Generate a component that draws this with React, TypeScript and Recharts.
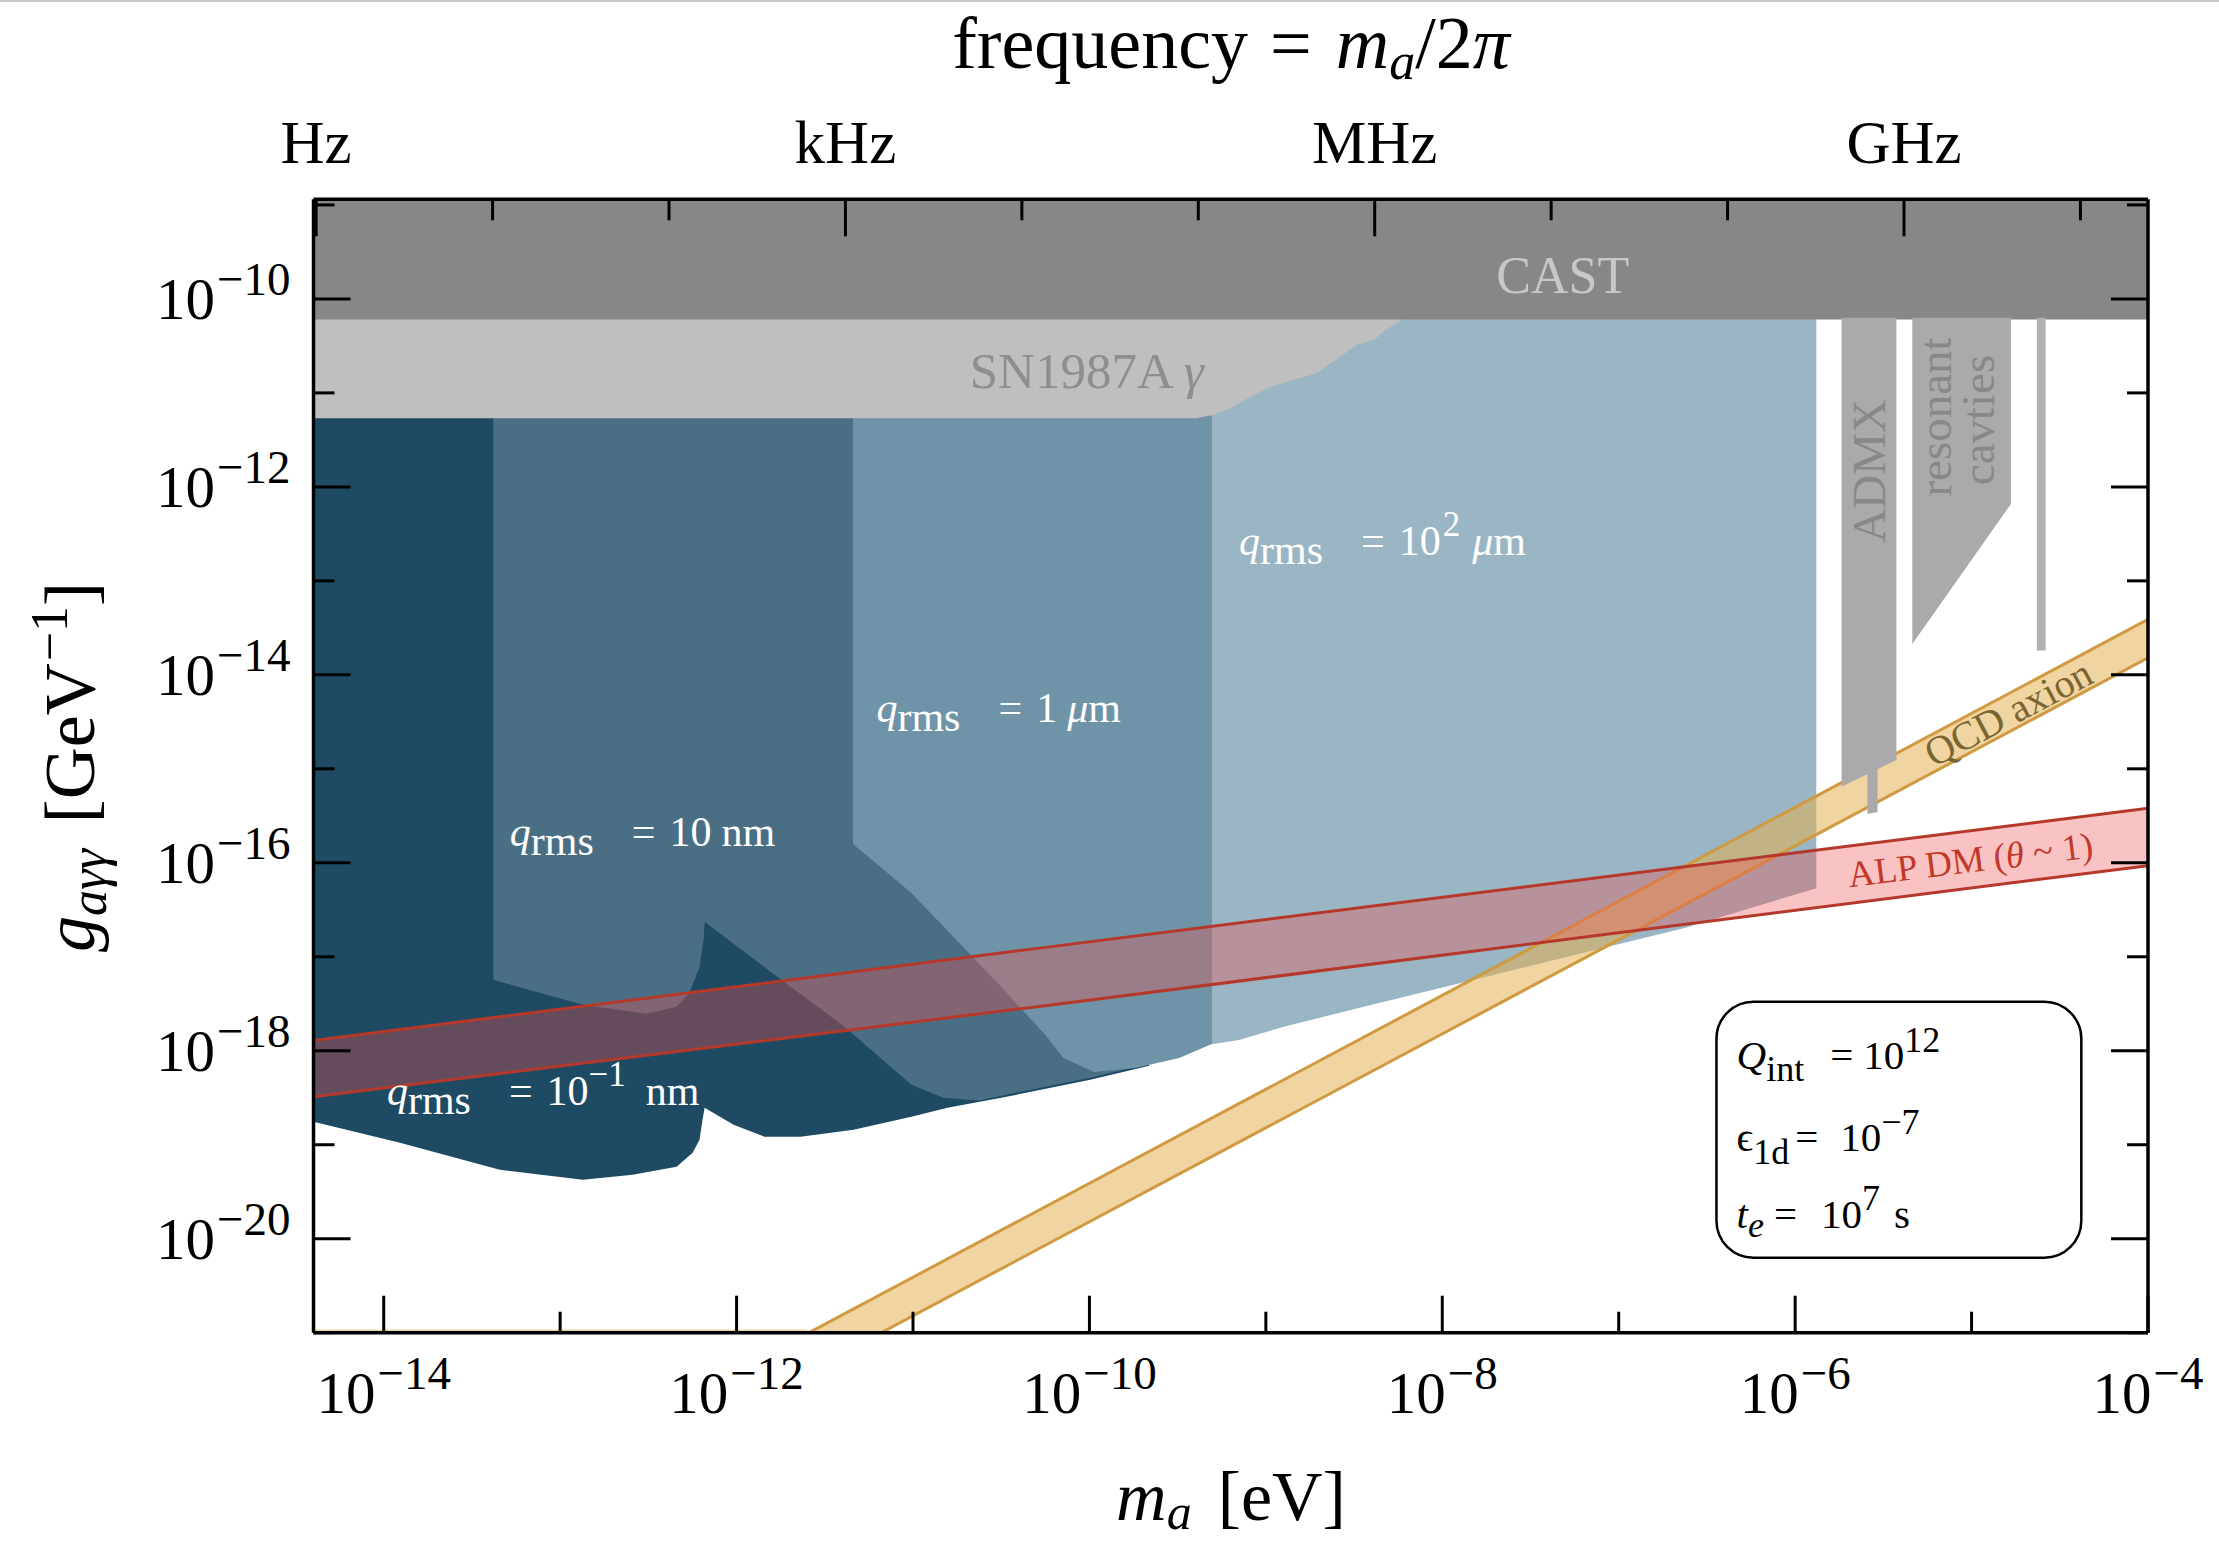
import React from 'react';
import { ComposedChart, Area, XAxis, YAxis, ReferenceDot, ReferenceArea } from 'recharts';

const W = 2219;
const H = 1544;
const FONT = '"Liberation Serif", "DejaVu Serif", serif';

// ---- axes (log10 values) ----
const X_DOMAIN: [number, number] = [-14.398, -4];
const Y_DOMAIN: [number, number] = [-21, -8.94];
const HIDDEN_TOP = -10.15;

const massTicks = [-14, -13, -12, -11, -10, -9, -8, -7, -6, -5, -4];
const couplingTicks = [-21, -20, -19, -18, -17, -16, -15, -14, -13, -12, -11, -10, -9];
const freqTicks = [-14.383, -13.383, -12.383, -11.383, -10.383, -9.383, -8.383, -7.383, -6.383, -5.383, -4.383];
const freqLabels = ['Hz', '', '', 'kHz', '', '', 'MHz', '', '', 'GHz', ''];

// ---- existing limits ----
const castX = [-14.398, -4];
const castLo = [-10.22, -10.22];
const castHi = [-8.9, -8.9];

const snX = [-14.398, -9.396, -9.299, -9.2, -9.103, -8.973, -8.843, -8.713, -8.551, -8.486, -8.388, -8.323, -8.226];
const snLo = [-11.27, -11.27, -11.235, -11.163, -11.057, -10.934, -10.862, -10.791, -10.578, -10.49, -10.437, -10.33, -10.224];

const admxX = [-5.737, -5.426];
const admxLo = [-15.192, -14.905];
const admxTailX = [-5.59, -5.533];
const admxTailLo = [-15.48, -15.46];
const cavX = [-5.336, -4.777];
const cavLo = [-13.671, -12.182];
const stripX = [-4.63, -4.58];
const stripLo = [-13.74, -13.74];

// ---- projected sensitivities ----
const r1X = [-14.398, -13.908, -13.342, -12.872, -12.589, -12.34, -12.249, -12.21, -12.193, -12.181, -12.017, -11.842, -11.638, -11.337, -11.009, -10.805, -10.499, -9.995, -9.661];
const r1Lo = [-18.756, -18.979, -19.266, -19.372, -19.319, -19.234, -19.085, -18.947, -18.734, -18.606, -18.787, -18.915, -18.915, -18.84, -18.702, -18.606, -18.5, -18.308, -18.159];

const r2X = [-13.379, -12.872, -12.51, -12.34, -12.266, -12.21, -12.187, -12.181, -11.762, -11.388, -11.009, -10.828, -10.624, -10.499, -9.995, -9.661];
const r2Lo = [-17.245, -17.511, -17.607, -17.532, -17.383, -17.106, -16.819, -16.628, -17.223, -17.744, -18.361, -18.5, -18.53, -18.478, -18.287, -18.138];

const r3X = [-11.34, -11.009, -10.754, -10.499, -10.25, -10.148, -9.973, -9.74, -9.491, -9.293];
const r3Lo = [-15.8, -16.322, -16.822, -17.322, -17.832, -18.077, -18.226, -18.184, -18.077, -17.917];

const r4X = [-9.305, -9.152, -8.903, -8.359, -7.895, -7.136, -6.626, -5.88];
const r4Lo = [-17.93, -17.885, -17.747, -17.492, -17.279, -16.928, -16.694, -16.27];

// ---- theory bands ----
const qcdX = [-11.62, -4];
const qcdHi = [-21.03, -13.41];
const qcdLo = [-21.44, -13.82];
const qcdFloorX = [-14.398, -11.6];
const qcdFloorLo = [-21.1, -21.1];
const qcdFloorHi = [-20.965, -20.965];

const alpX = [-14.398, -10.25, -4.0];
const alpHi = [-17.89, -16.9, -15.42];
const alpLo = [-18.49, -17.52, -16.03];

const band = (xs: number[], lo: number[], hi: number[] | number) =>
  xs.map((x, i) => ({ x, r: [lo[i], Array.isArray(hi) ? hi[i] : hi] }));

const isEven = (v: number) => Math.abs(Math.round(v)) % 2 === 0;
const MINUS = '\u2212';

function BottomTick(props: any) {
  const { x, y, payload } = props;
  const v = Number(payload.value);
  const major = isEven(v);
  return (
    <g>
      <line x1={x} x2={x} y1={y} y2={y - (major ? 37 : 21)} stroke="#000" strokeWidth={3} />
      {major ? (
        <text x={x} y={y + 80} textAnchor="middle" fontFamily={FONT} fontSize={59} fill="#000">
          10<tspan dy={-24} dx={2} fontSize={47}>{MINUS + Math.abs(Math.round(v))}</tspan>
        </text>
      ) : null}
    </g>
  );
}

function LeftTick(props: any) {
  const { x, y, payload } = props;
  const v = Number(payload.value);
  const major = isEven(v);
  return (
    <g>
      <line x1={x} x2={x + (major ? 37 : 21)} y1={y} y2={y} stroke="#000" strokeWidth={3} />
      {major ? (
        <text x={x - 23} y={y + 20} textAnchor="end" fontFamily={FONT} fontSize={59} fill="#000">
          10<tspan dy={-24} dx={2} fontSize={47}>{MINUS + Math.abs(Math.round(v))}</tspan>
        </text>
      ) : null}
    </g>
  );
}

function RightTick(props: any) {
  const { x, y, payload } = props;
  const major = isEven(Number(payload.value));
  return <line x1={x} x2={x - (major ? 37 : 21)} y1={y} y2={y} stroke="#000" strokeWidth={3} />;
}

function TopTick(props: any) {
  const { x, y, index } = props;
  const label = freqLabels[index] || '';
  const major = label !== '';
  return (
    <g>
      <line x1={x} x2={x} y1={y} y2={y + (major ? 37 : 21)} stroke="#000" strokeWidth={3} />
      {major ? (
        <text x={x} y={y - 36} textAnchor="middle" fontFamily={FONT} fontSize={61} fill="#000">
          {label}
        </text>
      ) : null}
    </g>
  );
}

const AXIS_LINE = { stroke: '#000', strokeWidth: 3.5 };

const dotShape = (render: (cx: number, cy: number) => React.ReactElement) => (p: any) => render(p.cx, p.cy);

const qText = (cx: number, cy: number, rest: React.ReactNode) => (
  <text x={cx} y={cy} fontFamily={FONT} fontSize={42} fill="#ffffff">
    <tspan fontStyle="italic">q</tspan>
    <tspan dy={9}>rms</tspan>
    <tspan dy={-9} dx={38}>=</tspan>
    {rest}
  </text>
);

const NOANIM = { isAnimationActive: false, dot: false, activeDot: false, type: 'linear' as const, dataKey: 'r' };

export default function App() {
  return (
    <div style={{ position: 'absolute', left: 0, top: 0, width: W, height: H, background: '#fff' }}>
      <ComposedChart width={W} height={H} margin={{ top: 189.3, right: 61, bottom: 201.3, left: 303.5 }}>
        <Area {...NOANIM} data={band(r1X, r1Lo, HIDDEN_TOP)} fill="#1e4b63" fillOpacity={1} stroke="none" />
        <Area {...NOANIM} data={band(r2X, r2Lo, HIDDEN_TOP)} fill="#4a6f84" fillOpacity={1} stroke="none" />
        <Area {...NOANIM} data={band(r3X, r3Lo, HIDDEN_TOP)} fill="#6f94a8" fillOpacity={1} stroke="none" />
        <Area {...NOANIM} data={band(r4X, r4Lo, HIDDEN_TOP)} fill="#9ab5c3" fillOpacity={1} stroke="none" />
        <Area {...NOANIM} data={band(snX, snLo, -10.18)} fill="#bfbfbf" fillOpacity={1} stroke="none" />
        <Area {...NOANIM} data={band(castX, castLo, castHi)} fill="#878787" fillOpacity={1} stroke="none" />
        <Area {...NOANIM} data={band(qcdFloorX, qcdFloorLo, qcdFloorHi)} fill="#e4b154" fillOpacity={0.55} stroke="none" />
        <Area {...NOANIM} data={band(qcdX, qcdLo, qcdHi)} fill="#e4b154" fillOpacity={0.55} stroke="#d09a40" strokeWidth={3} />
        <Area {...NOANIM} data={band(alpX, alpLo, alpHi)} fill="#f05050" fillOpacity={0.34} stroke="#b5382a" strokeWidth={3} />
        <Area {...NOANIM} data={band(admxX, admxLo, -10.2)} fill="#aaaaaa" fillOpacity={1} stroke="none" />
        <Area {...NOANIM} data={band(admxTailX, admxTailLo, -14.9)} fill="#aaaaaa" fillOpacity={1} stroke="none" />
        <Area {...NOANIM} data={band(cavX, cavLo, -10.2)} fill="#aaaaaa" fillOpacity={1} stroke="none" />
        <Area {...NOANIM} data={band(stripX, stripLo, -10.2)} fill="#b0b0b0" fillOpacity={1} stroke="none" />

        <ReferenceArea x1={-6.446} x2={-4.378} y1={-20.202} y2={-17.479} ifOverflow="visible"
          shape={(p: any) => <rect x={p.x} y={p.y} width={p.width} height={p.height} rx={37} ry={37} fill="none" stroke="#000" strokeWidth={2.5} />} />

        <ReferenceDot x={-7.317} y={-9.937} r={1} ifOverflow="visible" shape={dotShape((cx, cy) => (
          <text x={cx} y={cy} textAnchor="middle" fontFamily={FONT} fontSize={52} fill="#c8c8c8">CAST</text>
        ))} />
        <ReferenceDot x={-10.015} y={-10.947} r={1} ifOverflow="visible" shape={dotShape((cx, cy) => (
          <text x={cx} y={cy} textAnchor="middle" fontFamily={FONT} fontSize={51} fill="#8e8e8e">SN1987A <tspan fontStyle="italic">γ</tspan></text>
        ))} />
        <ReferenceDot x={-5.584} y={-11.83} r={1} ifOverflow="visible" shape={dotShape((cx, cy) => (
          <text x={cx} y={cy} textAnchor="middle" dominantBaseline="central" transform={`rotate(-90 ${cx} ${cy})`} fontFamily={FONT} fontSize={47} fill="#888888">ADMX</text>
        ))} />
        <ReferenceDot x={-5.205} y={-11.256} r={1} ifOverflow="visible" shape={dotShape((cx, cy) => (
          <text x={cx} y={cy} textAnchor="middle" dominantBaseline="central" transform={`rotate(-90 ${cx} ${cy})`} fontFamily={FONT} fontSize={47} fill="#888888">resonant</text>
        ))} />
        <ReferenceDot x={-4.961} y={-11.288} r={1} ifOverflow="visible" shape={dotShape((cx, cy) => (
          <text x={cx} y={cy} textAnchor="middle" dominantBaseline="central" transform={`rotate(-90 ${cx} ${cy})`} fontFamily={FONT} fontSize={47} fill="#888888">cavties</text>
        ))} />
        <ReferenceDot x={-4.792} y={-14.405} r={1} ifOverflow="visible" shape={dotShape((cx, cy) => (
          <text x={cx} y={cy} textAnchor="middle" dominantBaseline="central" transform={`rotate(-28 ${cx} ${cy})`} fontFamily={FONT} fontSize={40} fill="#7a6530">QCD axion</text>
        ))} />
        <ReferenceDot x={-5.007} y={-15.969} r={1} ifOverflow="visible" shape={dotShape((cx, cy) => (
          <text x={cx} y={cy} textAnchor="middle" dominantBaseline="central" transform={`rotate(-7 ${cx} ${cy})`} fontFamily={FONT} fontSize={37} fill="#c0392b">ALP DM (<tspan fontStyle="italic">θ</tspan> ~ 1)</text>
        ))} />

        <ReferenceDot x={-9.152} y={-12.723} r={1} ifOverflow="visible" shape={dotShape((cx, cy) => qText(cx, cy, (
          <>
            <tspan dx={14}>10</tspan>
            <tspan dy={-19} dx={2} fontSize={35}>2</tspan>
            <tspan dy={19} dx={12} fontStyle="italic">μ</tspan>
            <tspan>m</tspan>
          </>
        )))} />
        <ReferenceDot x={-11.207} y={-14.5} r={1} ifOverflow="visible" shape={dotShape((cx, cy) => qText(cx, cy, (
          <>
            <tspan dx={14}>1</tspan>
            <tspan dx={10} fontStyle="italic">μ</tspan>
            <tspan>m</tspan>
          </>
        )))} />
        <ReferenceDot x={-13.285} y={-15.82} r={1} ifOverflow="visible" shape={dotShape((cx, cy) => qText(cx, cy, (
          <>
            <tspan dx={14}>10</tspan>
            <tspan dx={10}>nm</tspan>
          </>
        )))} />
        <ReferenceDot x={-13.982} y={-18.576} r={1} ifOverflow="visible" shape={dotShape((cx, cy) => qText(cx, cy, (
          <>
            <tspan dx={14}>10</tspan>
            <tspan dy={-19} fontSize={35}>{MINUS}1</tspan>
            <tspan dy={19} dx={20}>nm</tspan>
          </>
        )))} />

        <ReferenceDot x={-6.332} y={-18.193} r={1} ifOverflow="visible" shape={dotShape((cx, cy) => (
          <text x={cx} y={cy} fontFamily={FONT} fontSize={41} fill="#000">
            <tspan fontStyle="italic">Q</tspan>
            <tspan dy={12} fontSize={36}>int</tspan>
            <tspan dy={-12} dx={26}>=</tspan>
            <tspan dx={10}>10</tspan>
            <tspan dy={-17} fontSize={36}>12</tspan>
          </text>
        ))} />
        <ReferenceDot x={-6.332} y={-19.065} r={1} ifOverflow="visible" shape={dotShape((cx, cy) => (
          <text x={cx} y={cy} fontFamily={FONT} fontSize={41} fill="#000">
            <tspan>ϵ</tspan>
            <tspan dy={13} fontSize={36}>1d</tspan>
            <tspan dy={-13} dx={6}>=</tspan>
            <tspan dx={22}>10</tspan>
            <tspan dy={-17} fontSize={36}>{MINUS}7</tspan>
          </text>
        ))} />
        <ReferenceDot x={-6.332} y={-19.884} r={1} ifOverflow="visible" shape={dotShape((cx, cy) => (
          <text x={cx} y={cy} fontFamily={FONT} fontSize={41} fill="#000">
            <tspan fontStyle="italic">t</tspan>
            <tspan dy={9} fontSize={36} fontStyle="italic">e</tspan>
            <tspan dy={-9} dx={10}>=</tspan>
            <tspan dx={24}>10</tspan>
            <tspan dy={-18} fontSize={36}>7</tspan>
            <tspan dy={18} dx={14}>s</tspan>
          </text>
        ))} />

        <XAxis xAxisId={0} orientation="bottom" type="number" dataKey="x" domain={X_DOMAIN} allowDataOverflow ticks={massTicks} interval={0} tickSize={0} tickMargin={0} tickLine={false} axisLine={AXIS_LINE} tick={BottomTick} height={10} />
        <XAxis xAxisId="top" orientation="top" type="number" dataKey="x" domain={X_DOMAIN} allowDataOverflow ticks={freqTicks} interval={0} tickSize={0} tickMargin={0} tickLine={false} axisLine={AXIS_LINE} tick={TopTick} height={10} />
        <YAxis yAxisId={0} orientation="left" type="number" domain={Y_DOMAIN} allowDataOverflow ticks={couplingTicks} interval={0} tickSize={0} tickMargin={0} tickLine={false} axisLine={AXIS_LINE} tick={LeftTick} width={10} />
        <YAxis yAxisId="right" orientation="right" type="number" domain={Y_DOMAIN} allowDataOverflow ticks={couplingTicks} interval={0} tickSize={0} tickMargin={0} tickLine={false} axisLine={AXIS_LINE} tick={RightTick} width={10} />
      </ComposedChart>

      <svg width={W} height={H} style={{ position: 'absolute', left: 0, top: 0, pointerEvents: 'none' }}>
        <line x1={0} x2={W} y1={1} y2={1} stroke="#c8c8c8" strokeWidth={2} />
        <text x={1231} y={68} textAnchor="middle" fontFamily={FONT} fontSize={74} fill="#000">
          frequency<tspan dx={22}>=</tspan>
          <tspan dx={24} fontStyle="italic">m</tspan>
          <tspan dy={11} fontSize={52} fontStyle="italic">a</tspan>
          <tspan dy={-11}>/2</tspan>
          <tspan fontStyle="italic">π</tspan>
        </text>
        <text x={1231} y={1520} textAnchor="middle" fontFamily={FONT} fontSize={70} fill="#000">
          <tspan fontStyle="italic">m</tspan>
          <tspan dy={9} fontSize={50} fontStyle="italic">a</tspan>
          <tspan dy={-9} dx={26}>[eV]</tspan>
        </text>
        <text x={94} y={767} textAnchor="middle" transform="rotate(-90 94 767)" fontFamily={FONT} fontSize={72} fill="#000">
          <tspan fontStyle="italic">g</tspan>
          <tspan dy={12} fontSize={52} fontStyle="italic">aγγ</tspan>
          <tspan dy={-12} dx={26}>[GeV</tspan>
          <tspan dy={-27} dx={2} fontSize={52}>{MINUS}1</tspan>
          <tspan dy={27}>]</tspan>
        </text>
      </svg>
    </div>
  );
}
